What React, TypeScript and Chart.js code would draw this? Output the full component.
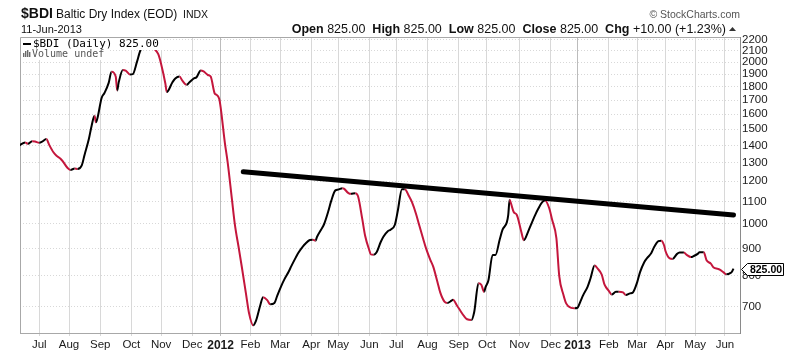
import React, { useEffect, useRef } from "react";
import { Chart, registerables } from "chart.js";

Chart.register(...registerables);

const SANS = '"Liberation Sans", Arial, sans-serif';
const MONO = '"DejaVu Sans Mono", monospace';
const UP_COLOR = "#000000";
const DOWN_COLOR = "#c4163c";

const SYMBOL = "$BDI";
const TITLE = "Baltic Dry Index (EOD)";
const EXCHANGE = "INDX";
const AS_OF = "11-Jun-2013";

// Baltic Exchange (London) closures: not plotted as trading days
const HOLIDAYS = [
  "2011-08-29", "2011-12-26", "2011-12-27", "2012-01-02", "2012-04-06", "2012-04-09",
  "2012-05-07", "2012-06-04", "2012-06-05", "2012-08-27", "2012-12-25", "2012-12-26",
  "2013-01-01", "2013-03-29", "2013-04-01", "2013-05-06", "2013-05-27",
];
const BASE_DATE = "2011-07-01";

const DATES = [
  "2011-06-13", "2011-06-17", "2011-06-21", "2011-06-24", "2011-06-28", "2011-07-01", "2011-07-05", "2011-07-08",
  "2011-07-12", "2011-07-15", "2011-07-19", "2011-07-22", "2011-07-26", "2011-07-29", "2011-08-02", "2011-08-05",
  "2011-08-09", "2011-08-12", "2011-08-16", "2011-08-19", "2011-08-23", "2011-08-25", "2011-08-26", "2011-08-30",
  "2011-09-02", "2011-09-06", "2011-09-09", "2011-09-13", "2011-09-16", "2011-09-19", "2011-09-20", "2011-09-23",
  "2011-09-27", "2011-09-30", "2011-10-04", "2011-10-07", "2011-10-11", "2011-10-14", "2011-10-18", "2011-10-21",
  "2011-10-25", "2011-10-28", "2011-11-01", "2011-11-04", "2011-11-07", "2011-11-11", "2011-11-15", "2011-11-18",
  "2011-11-22", "2011-11-25", "2011-11-29", "2011-12-02", "2011-12-06", "2011-12-09", "2011-12-13", "2011-12-16",
  "2011-12-20", "2011-12-23", "2011-12-28", "2011-12-30",
  "2012-01-03", "2012-01-06", "2012-01-10", "2012-01-13", "2012-01-17", "2012-01-20", "2012-01-24", "2012-01-27",
  "2012-01-31", "2012-02-03", "2012-02-07", "2012-02-10", "2012-02-14", "2012-02-17", "2012-02-21", "2012-02-24",
  "2012-02-28", "2012-03-02", "2012-03-06", "2012-03-09", "2012-03-13", "2012-03-16", "2012-03-20", "2012-03-23",
  "2012-03-27", "2012-03-30", "2012-04-03", "2012-04-05", "2012-04-10", "2012-04-13", "2012-04-17", "2012-04-20",
  "2012-04-24", "2012-04-27", "2012-05-01", "2012-05-04", "2012-05-08", "2012-05-11", "2012-05-15", "2012-05-18",
  "2012-05-22", "2012-05-25", "2012-05-29", "2012-06-01", "2012-06-06", "2012-06-08", "2012-06-12", "2012-06-15",
  "2012-06-19", "2012-06-22", "2012-06-26", "2012-06-29", "2012-07-03", "2012-07-06", "2012-07-10", "2012-07-13",
  "2012-07-17", "2012-07-20", "2012-07-24", "2012-07-27", "2012-07-31", "2012-08-03", "2012-08-07", "2012-08-10",
  "2012-08-14", "2012-08-17", "2012-08-21", "2012-08-24", "2012-08-28", "2012-08-31", "2012-09-04", "2012-09-07",
  "2012-09-11", "2012-09-14", "2012-09-18", "2012-09-21", "2012-09-25", "2012-09-27", "2012-09-28", "2012-10-02",
  "2012-10-05", "2012-10-09", "2012-10-12", "2012-10-16", "2012-10-19", "2012-10-22", "2012-10-23", "2012-10-24",
  "2012-10-26", "2012-10-30", "2012-11-02", "2012-11-06", "2012-11-09", "2012-11-13", "2012-11-16", "2012-11-20",
  "2012-11-23", "2012-11-27", "2012-11-30", "2012-12-04", "2012-12-07", "2012-12-11", "2012-12-14", "2012-12-18",
  "2012-12-21", "2012-12-28",
  "2013-01-02", "2013-01-04", "2013-01-08", "2013-01-11", "2013-01-15", "2013-01-18", "2013-01-22", "2013-01-25",
  "2013-01-29", "2013-02-01", "2013-02-05", "2013-02-08", "2013-02-12", "2013-02-15", "2013-02-19", "2013-02-22",
  "2013-02-26", "2013-03-01", "2013-03-05", "2013-03-08", "2013-03-12", "2013-03-15", "2013-03-19", "2013-03-22",
  "2013-03-26", "2013-03-28", "2013-04-02", "2013-04-05", "2013-04-09", "2013-04-12", "2013-04-16", "2013-04-19",
  "2013-04-23", "2013-04-26", "2013-04-30", "2013-05-03", "2013-05-07", "2013-05-10", "2013-05-14", "2013-05-17",
  "2013-05-21", "2013-05-24", "2013-05-28", "2013-05-31", "2013-06-04", "2013-06-07", "2013-06-10", "2013-06-11",
];

const BDI_CLOSE = [
  1400, 1417, 1409, 1425, 1423, 1416, 1422, 1438,
  1403, 1359, 1340, 1322, 1303, 1270, 1260, 1267,
  1265, 1285, 1345, 1438, 1525, 1590, 1545, 1570,
  1715, 1752, 1830, 1920, 1879, 1772, 1830, 1933,
  1928, 1898, 1900, 2005, 2090, 2173, 2165, 2145,
  2120, 2070, 1985, 1825, 1760, 1835, 1865, 1880,
  1847, 1815, 1835, 1865, 1875, 1930, 1922, 1893,
  1880, 1745, 1740, 1710,
  1650, 1415, 1300, 1110, 1000, 895, 830, 738,
  683, 647, 660, 705, 730, 720, 708, 712,
  735, 768, 788, 814, 835, 865, 884, 907,
  919, 933, 934, 930, 945, 976, 998, 1055,
  1102, 1154, 1158, 1165, 1163, 1142, 1137, 1140,
  1125, 1020, 950, 892, 877, 876, 884, 925,
  947, 969, 975, 996, 1055, 1160, 1160, 1125,
  1098, 1042, 998, 937, 900, 857, 833, 780,
  745, 716, 712, 719, 722, 703, 690, 672,
  664, 662, 685, 775, 770, 747, 762, 784,
  875, 875, 935, 975, 1006, 1038, 1108, 1090,
  1050, 1040, 972, 932, 966, 995, 1038, 1064,
  1097, 1105, 1068, 1017, 940, 800, 737, 710,
  698, 696,
  698, 717, 737, 763, 790, 836, 826, 804,
  770, 750, 738, 747, 747, 745, 737, 742,
  745, 778, 812, 848, 863, 882, 905, 928,
  930, 912, 890, 862, 860, 878, 884, 884,
  875, 867, 871, 880, 885, 885, 855, 843,
  829, 824, 822, 812, 805, 810, 815, 825,
];

// Hand-drawn resistance line
const TREND_DATES = ["2012-01-25", "2013-06-11"];
const TREND_VALUES = [1250, 1038];

const MONTH_STARTS = [
  "2011-07", "2011-08", "2011-09", "2011-10", "2011-11", "2011-12",
  "2012-01", "2012-02", "2012-03", "2012-04", "2012-05", "2012-06",
  "2012-07", "2012-08", "2012-09", "2012-10", "2012-11", "2012-12",
  "2013-01", "2013-02", "2013-03", "2013-04", "2013-05", "2013-06",
];
const MONTH_LABELS = [
  "Jul", "Aug", "Sep", "Oct", "Nov", "Dec",
  "2012", "Feb", "Mar", "Apr", "May", "Jun",
  "Jul", "Aug", "Sep", "Oct", "Nov", "Dec",
  "2013", "Feb", "Mar", "Apr", "May", "Jun",
];

const Y_TICKS = [700, 800, 900, 1000, 1100, 1200, 1300, 1400, 1500, 1600, 1700, 1800, 1900, 2000, 2100, 2200];
const Y_MIN = 626;
const Y_MAX = 2228;
const X_MIN = -13.6; // trading days relative to BASE_DATE
const X_MAX = 494.6;

const DAY_MS = 86400000;
const holidaySet = new Set(HOLIDAYS);
function parseDate(s: string): number {
  const [y, m, d] = s.split("-").map(Number);
  return Date.UTC(y, m - 1, d);
}
function isTrading(t: number): boolean {
  const d = new Date(t);
  const w = d.getUTCDay();
  if (w === 0 || w === 6) return false;
  return !holidaySet.has(d.toISOString().slice(0, 10));
}
function tradingIndex(s: string): number {
  const base = parseDate(BASE_DATE);
  const t = parseDate(s);
  let n = 0;
  if (t >= base) {
    for (let c = base + DAY_MS; c <= t; c += DAY_MS) if (isTrading(c)) n++;
    return n;
  }
  for (let c = t; c < base; c += DAY_MS) if (isTrading(c)) n++;
  return -n;
}
function firstTradingDay(ym: string): string {
  let t = parseDate(ym + "-01");
  while (!isTrading(t)) t += DAY_MS;
  return new Date(t).toISOString().slice(0, 10);
}

export default function App() {
  const ref = useRef<HTMLCanvasElement>(null);

  useEffect(() => {
    document.body.style.margin = "0";
    const canvas = ref.current;
    if (!canvas) return;

    const points = DATES.map((d, i) => ({ x: tradingIndex(d), y: BDI_CLOSE[i] }));
    const trend = TREND_DATES.map((d, i) => ({ x: tradingIndex(d), y: TREND_VALUES[i] }));
    const monthIdx = MONTH_STARTS.map((m) => tradingIndex(firstTradingDay(m)));
    const last = BDI_CLOSE[BDI_CLOSE.length - 1];
    const prev = BDI_CLOSE[BDI_CLOSE.length - 2];
    const chg = last - prev;
    const pct = (chg / prev) * 100;
    const isYear = (i: number) => (MONTH_LABELS[i] || "").length === 4;

    const decor = {
      id: "decor",
      beforeDatasetsDraw(chart: any) {
        const { ctx, chartArea: a } = chart;
        ctx.save();
        ctx.strokeStyle = "#a8a8a8";
        ctx.lineWidth = 1;
        ctx.beginPath();
        ctx.moveTo(a.left + 0.5, a.bottom);
        ctx.lineTo(a.left + 0.5, a.top + 0.5);
        ctx.lineTo(a.right, a.top + 0.5);
        ctx.stroke();
        ctx.restore();
      },
      afterDatasetsDraw(chart: any) {
        const { ctx, chartArea: a } = chart;
        ctx.save();
        // legend
        ctx.fillStyle = "#ffffff";
        ctx.fillRect(a.left + 1, a.top + 1, 143, 12);
        ctx.fillRect(a.left + 1, a.top + 13, 87, 10);
        ctx.fillStyle = "#000";
        ctx.fillRect(a.left + 3, a.top + 6, 8, 2);
        ctx.font = `11px ${MONO}`;
        ctx.textBaseline = "alphabetic";
        ctx.textAlign = "left";
        ctx.fillText(`${SYMBOL} (Daily) ${last.toFixed(2)}`, a.left + 13, a.top + 10);
        ctx.fillStyle = "#6a6a6a";
        const bx = a.left + 3;
        const by = a.top + 20;
        [4, 6, 7, 5].forEach((h, i) => ctx.fillRect(bx + i * 2, by - h, 1.4, h));
        ctx.fillStyle = "#555";
        ctx.font = `10px ${MONO}`;
        ctx.fillText("Volume undef", a.left + 12, a.top + 20);

        // last value tag
        const ys = chart.scales.y;
        const y = Math.round(ys.getPixelForValue(last)) + 0.5;
        const x0 = a.right + 1.5;
        ctx.beginPath();
        ctx.moveTo(x0, y);
        ctx.lineTo(x0 + 6, y - 6);
        ctx.lineTo(x0 + 42, y - 6);
        ctx.lineTo(x0 + 42, y + 6);
        ctx.lineTo(x0 + 6, y + 6);
        ctx.closePath();
        ctx.fillStyle = "#fff";
        ctx.fill();
        ctx.strokeStyle = "#000";
        ctx.lineWidth = 1;
        ctx.stroke();
        ctx.fillStyle = "#000";
        ctx.font = `bold 10.5px ${SANS}`;
        ctx.textAlign = "center";
        ctx.textBaseline = "middle";
        ctx.fillText(last.toFixed(2), x0 + 24.5, y + 0.5);
        ctx.restore();
      },
      afterDraw(chart: any) {
        const { ctx } = chart;
        ctx.save();
        ctx.textBaseline = "alphabetic";
        ctx.textAlign = "left";
        ctx.fillStyle = "#111";
        ctx.font = `bold 14px ${SANS}`;
        ctx.fillText(SYMBOL, 21, 18);
        ctx.font = `12px ${SANS}`;
        ctx.fillText(TITLE, 56, 18);
        ctx.font = `10.5px ${SANS}`;
        ctx.fillText(EXCHANGE, 183, 18);
        ctx.font = `11px ${SANS}`;
        ctx.fillText(AS_OF, 21, 33);

        ctx.fillStyle = "#555";
        ctx.font = `10.5px ${SANS}`;
        ctx.textAlign = "right";
        ctx.fillText("\u00A9 StockCharts.com", 740, 18);
        ctx.textAlign = "left";

        const v = last.toFixed(2);
        const B = `bold 12.5px ${SANS}`;
        const R = `12.5px ${SANS}`;
        const segs: [string, string][] = [
          ["Open", B], [` ${v}  `, R],
          ["High", B], [` ${v}  `, R],
          ["Low", B], [` ${v}  `, R],
          ["Close", B], [` ${v}  `, R],
          ["Chg", B], [` ${chg >= 0 ? "+" : ""}${chg.toFixed(2)} (${pct >= 0 ? "+" : ""}${pct.toFixed(2)}%)`, R],
        ];
        let total = 0;
        segs.forEach(([t, f]) => { ctx.font = f; total += ctx.measureText(t).width; });
        let x = 726 - total;
        ctx.fillStyle = "#111";
        segs.forEach(([t, f]) => { ctx.font = f; ctx.fillText(t, x, 33); x += ctx.measureText(t).width; });
        // up arrow
        ctx.fillStyle = "#333";
        ctx.beginPath();
        ctx.moveTo(729, 31);
        ctx.lineTo(736, 31);
        ctx.lineTo(732.5, 27);
        ctx.closePath();
        ctx.fill();
        ctx.restore();
      },
    };

    const chart = new Chart(canvas, {
      type: "line",
      data: {
        datasets: [
          {
            data: trend,
            borderColor: "#000",
            borderWidth: 5,
            borderCapStyle: "round",
            pointRadius: 0,
            tension: 0,
            order: 0,
          } as any,
          {
            data: points,
            borderColor: UP_COLOR,
            borderWidth: 2,
            pointRadius: 0,
            cubicInterpolationMode: "monotone",
            order: 1,
            segment: {
              borderColor: (c: any) => (c.p1.parsed.y < c.p0.parsed.y ? DOWN_COLOR : UP_COLOR),
            },
          } as any,
        ],
      },
      options: {
        animation: false,
        responsive: false,
        events: [],
        layout: { padding: { top: 37, left: 20, right: 0, bottom: 0 } },
        plugins: { legend: { display: false }, tooltip: { enabled: false }, title: { display: false } },
        scales: {
          x: {
            type: "linear",
            min: X_MIN,
            max: X_MAX,
            afterBuildTicks: (s: any) => {
              s.ticks = monthIdx.map((v) => ({ value: v }));
            },
            afterFit: (s: any) => {
              s.height = 21;
            },
            ticks: {
              autoSkip: false,
              maxRotation: 0,
              padding: 2,
              color: "#1a1a1a",
              callback: (_v: any, i: number) => MONTH_LABELS[i],
              font: (c: any) =>
                isYear(c.index) ? { family: SANS, size: 12, weight: "bold" } : { family: SANS, size: 11.5 },
            } as any,
            grid: {
              color: (c: any) => (isYear(c.index) ? "#bcbcbc" : "#d8d8d8"),
              tickLength: 3,
            },
            border: { display: true, color: "#a8a8a8" },
          },
          y: {
            type: "logarithmic",
            position: "right",
            min: Y_MIN,
            max: Y_MAX,
            afterBuildTicks: (s: any) => {
              s.ticks = Y_TICKS.map((v) => ({ value: v }));
            },
            afterFit: (s: any) => {
              s.width = 50;
            },
            ticks: {
              autoSkip: false,
              padding: 2,
              color: "#1a1a1a",
              font: { family: SANS, size: 11.5 },
              callback: (v: any) => String(v),
            },
            grid: { color: "#d8d8d8", drawTicks: false },
            border: { display: true, color: "#8a8a8a", dash: [1, 2] },
          },
        },
      } as any,
      plugins: [decor],
    });

    return () => chart.destroy();
  }, []);

  return (
    <div style={{ width: 790, height: 354, position: "relative", background: "#fff" }}>
      <canvas ref={ref} width={790} height={354} style={{ display: "block" }} />
    </div>
  );
}
